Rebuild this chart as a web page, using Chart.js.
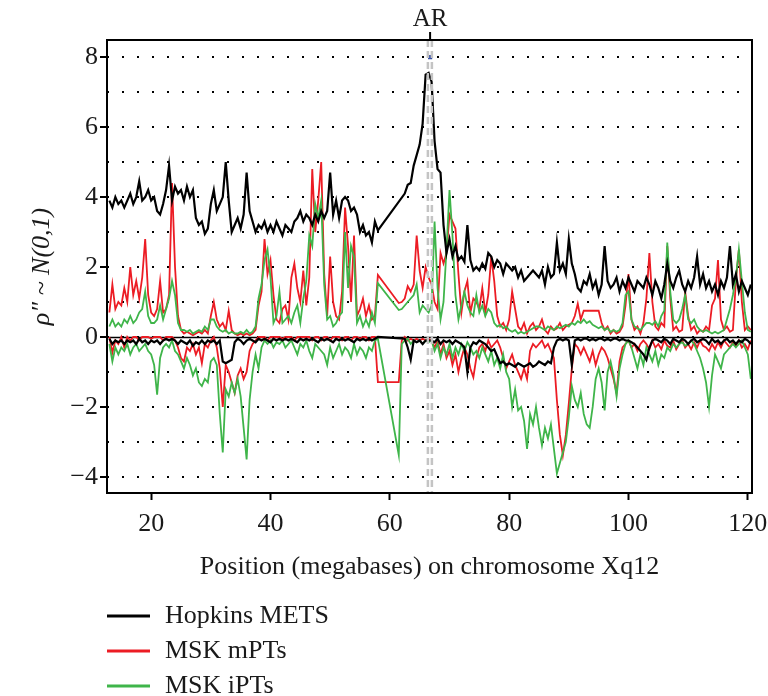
<!DOCTYPE html>
<html>
<head>
<meta charset="utf-8">
<title>Xq12</title>
<script src="https://cdn.jsdelivr.net/npm/chart.js@4.4.1/dist/chart.umd.min.js"></script>
<style>
  html, body { margin: 0; padding: 0; background: #fff; }
  #contenedor { width: 768px; height: 696px; }
</style>
</head>
<body>
<div id="contenedor"><canvas id="graficaXq12" width="768" height="696"></canvas></div>
<script>
// Posiciones (megabases) sobre el cromosoma X
const posicionesMb = [
  13, 13.5, 14, 14.5, 15, 15.5, 16, 16.5, 17, 17.5, 18, 18.5, 19, 19.5, 20, 20.5, 21, 21.5, 22, 22.5,
  23, 23.5, 24, 24.5, 25, 25.5, 26, 26.5, 27, 27.5, 28, 28.5, 29, 29.5, 30, 30.5, 31, 31.5, 32, 32.5,
  33, 33.5, 34, 34.5, 35, 35.5, 36, 36.5, 37, 37.5, 38, 38.5, 39, 39.5, 40, 40.5, 41, 41.5, 42, 42.5,
  43, 43.5, 44, 44.5, 45, 45.5, 46, 46.5, 47, 47.5, 48, 48.5, 49, 49.5, 50, 50.5, 51, 51.5, 52, 52.5,
  53, 53.5, 54, 54.5, 55, 55.5, 56, 56.5, 57, 57.5, 58, 58.5, 59, 59.5, 60, 60.5, 61, 61.5, 62, 62.5,
  63, 63.5, 64, 64.5, 65, 65.5, 66, 66.5, 67, 67.5, 68, 68.5, 69, 69.5, 70, 70.5, 71, 71.5, 72, 72.5,
  73, 73.5, 74, 74.5, 75, 75.5, 76, 76.5, 77, 77.5, 78, 78.5, 79, 79.5, 80, 80.5, 81, 81.5, 82, 82.5,
  83, 83.5, 84, 84.5, 85, 85.5, 86, 86.5, 87, 87.5, 88, 88.5, 89, 89.5, 90, 90.5, 91, 91.5, 92, 92.5,
  93, 93.5, 94, 94.5, 95, 95.5, 96, 96.5, 97, 97.5, 98, 98.5, 99, 99.5, 100, 100.5, 101, 101.5, 102, 102.5,
  103, 103.5, 104, 104.5, 105, 105.5, 106, 106.5, 107, 107.5, 108, 108.5, 109, 109.5, 110, 110.5, 111, 111.5, 112, 112.5,
  113, 113.5, 114, 114.5, 115, 115.5, 116, 116.5, 117, 117.5, 118, 118.5, 119, 119.5, 120, 120.5
];

// Hopkins METS (ganancias / pérdidas); null = sin sondas
const hopkinsGanancia = [
  3.9, 3.7, 4.0, 3.8, 3.9, 3.7, 3.9, 4.1, 3.8, 4.0, 4.45, 3.9, 4.0, 4.2, 3.9, 4.0, 3.6, 3.5, 3.8, 4.2,
  4.9, 3.9, 4.3, 4.1, 4.2, 3.9, 4.3, 4.0, 4.2, 3.4, 3.2, 3.3, 2.95, 3.1, 3.8, 4.2, 3.6, 3.8, 4.0, 5.0,
  3.9, 3.0, 3.2, 3.4, 3.1, 3.5, 4.7, 3.6, 3.3, 3.0, 3.2, 3.1, 3.3, 3.0, 3.2, 3.0, 3.3, 3.1, 2.9, 3.2,
  3.1, 3.0, 3.3, 3.4, 3.6, 3.3, 3.5, 3.4, 3.2, 3.5, 3.3, 3.6, 3.4, 3.6, 4.7, 3.5, 3.9, 3.4, 3.9, 4.0,
  3.9, 3.6, 3.7, 3.5, 3.0, 3.2, 2.9, 3.0, 2.7, 3.3, 3.05, null, null, null, null, null, null, null, null, 4.1,
  4.35, 4.4, 4.9, 5.2, 5.5, 6.1, 7.5, 7.55, 7.3, 5.6, 4.8, 4.7, 3.2, 2.4, 2.8, 2.3, 2.6, 2.2, 2.3, 2.15,
  3.2, 2.2, 1.9, 2.0, 1.9, 2.1, 1.95, 2.4, 2.3, 2.0, 2.2, 2.1, 1.8, 2.1, 2.0, 1.9, 2.0, 1.7, 1.9, 1.6,
  1.7, 1.8, 1.9, 1.8, 1.7, 1.9, 1.5, 2.0, 1.7, 1.8, 2.7, 1.9, 2.1, 1.8, 2.8, 2.1, 1.8, 1.4, 1.3, 1.6,
  1.5, 1.8, 1.4, 1.6, 1.2, 1.5, 2.6, 1.6, 1.4, 1.5, 1.7, 1.3, 1.6, 1.4, 1.7, 1.5, 1.3, 1.6, 1.5, 1.4,
  1.7, 1.5, 1.2, 1.6, 1.4, 1.1, 1.5, 2.1, 1.6, 1.4, 1.7, 1.9, 1.5, 1.3, 1.6, 1.4, 1.7, 2.3, 1.5, 1.8,
  1.4, 1.6, 1.3, 1.5, 1.2, 1.6, 1.4, 1.7, 2.6, 1.5, 1.8, 1.3, 1.6, 1.4, 1.2, 1.5
];
const hopkinsPerdida = [
  -0.05, -0.2, -0.1, -0.15, -0.1, -0.2, -0.1, -0.15, -0.1, -0.2, -0.05, -0.15, -0.1, -0.2, -0.1, -0.15, -0.1, -0.2, -0.1, -0.05,
  -0.1, -0.05, -0.1, -0.2, -0.1, -0.15, -0.2, -0.1, -0.25, -0.15, -0.2, -0.1, -0.2, -0.1, -0.15, -0.1, -0.2, -0.1, -0.7, -0.75,
  -0.7, -0.65, -0.15, -0.05, -0.1, -0.2, -0.1, -0.05, -0.1, -0.15, -0.05, -0.1, -0.05, -0.1, -0.15, -0.05, -0.1, -0.05, -0.1, -0.05,
  -0.1, -0.05, -0.1, -0.15, -0.05, -0.1, -0.05, -0.1, -0.05, -0.1, -0.15, -0.05, -0.1, -0.05, -0.1, -0.15, -0.05, -0.1, -0.05, -0.1,
  -0.05, -0.1, -0.15, -0.05, -0.1, -0.05, -0.1, -0.05, -0.1, -0.05, 0, null, null, null, null, null, null, null, null, -0.05,
  -0.3, -0.65, -0.1, -0.15, -0.1, -0.2, -0.1, -0.1, -0.1, -0.15, -0.05, -0.2, -0.1, -0.15, -0.1, -0.2, -0.1, -0.15, -0.2, -0.3,
  -1.0, -0.3, -0.15, -0.2, -0.1, -0.15, -0.2, -0.3, -0.4, -0.35, -0.55, -0.75, -0.7, -0.8, -0.75, -0.8, -0.85, -0.75, -0.8, -0.85,
  -0.8, -0.75, -0.85, -0.8, -0.7, -0.75, -0.8, -0.7, -0.75, -0.3, -0.1, -0.05, -0.1, -0.05, -0.1, -0.8, -0.1, -0.05, -0.1, -0.05,
  -0.05, -0.1, -0.05, -0.1, -0.05, -0.05, -0.1, -0.05, -0.1, -0.05, -0.05, -0.1, -0.05, -0.1, -0.1, -0.15, -0.2, -0.3, -0.4, -0.5,
  -0.65, -0.3, -0.1, -0.05, -0.1, -0.15, -0.05, -0.1, -0.2, -0.05, -0.1, -0.15, -0.05, -0.1, -0.2, -0.1, -0.05, -0.15, -0.1, -0.05,
  -0.1, -0.2, -0.05, -0.15, -0.1, -0.2, -0.1, -0.05, -0.15, -0.1, -0.2, -0.1, -0.15, -0.05, -0.1, -0.2
];

// MSK mPTs
const mptsGanancia = [
  0.7, 1.5, 0.8, 1.0, 0.9, 1.4, 1.0, 2.0, 1.2, 1.6, 1.1, 1.7, 2.8, 1.2, 0.7, 0.6, 0.8, 1.6, 0.7, 0.8,
  1.2, 4.4, 2.0, 0.6, 0.2, 0.1, 0.15, 0.1, 0.05, 0.1, 0.15, 0.1, 0.2, 0.1, 0.6, 1.0, 0.5, 0.3, 0.4, 0.2,
  0.75, 0.2, 0.1, 0.05, 0.1, 0.05, 0.1, 0.05, 0.1, 0.2, 0.9, 1.3, 2.8, 1.8, 2.2, 1.2, 0.5, 0.4, 0.8, 0.9,
  0.5, 1.7, 2.1, 1.4, 1.0, 1.9, 0.9, 1.7, 4.8, 3.0, 3.9, 5.0, 1.8, 0.6, 2.3, 1.0, 0.6, 0.5, 1.3, 3.7,
  2.6, 1.0, 2.9, 0.6, 0.8, 1.1, 0.6, 0.9, 0.5, 0.6, 1.77, null, null, null, null, null, null, 0.97, 1.0, 1.1,
  1.45, 1.3, 1.5, 2.9, 1.9, 1.4, 2.0, 1.7, 1.5, 1.0, 0.8, 2.4, 2.1, 2.4, 3.5, 3.3, 3.1, 1.8, 0.7, 1.3,
  1.6, 0.7, 1.1, 1.0, 0.8, 1.4, 0.7, 1.2, 2.3, 1.6, 0.6, 0.3, 0.4, 0.2, 0.5, 1.3, 0.8, 0.3, 0.2, 0.4,
  0.1, 0.3, 0.4, 0.2, 0.3, 0.5, 0.2, 0.1, 0.3, 0.2, 0.25, 0.4, 0.2, 0.3, 0.35, 0.4, 0.6, 0.95, 0.5, 0.75,
  0.75, 0.75, 0.75, 0.75, 0.75, 0.4, 0.2, 0.3, 0.1, 0.2, 0.1, 0.15, 0.3, 0.9, 1.8, 0.5, 0.2, 0.3, 0.1, 0.4,
  1.1, 2.4, 1.0, 0.3, 0.2, 0.4, 0.3, 2.6, 1.1, 0.2, 0.3, 0.15, 0.2, 1.3, 0.6, 0.2, 0.3, 0.1, 0.2, 0.15,
  0.3, 0.2, 0.9, 1.1, 2.2, 0.5, 0.2, 0.3, 0.15, 0.2, 1.6, 2.5, 1.0, 0.2, 0.3, 0.2
];
const mptsPerdida = [
  0, -0.45, -0.1, -0.2, 0, -0.3, 0, -0.1, 0, 0, -0.1, 0, 0, 0, -0.05, 0, 0, 0, -0.1, 0,
  0, 0, -0.1, -0.3, -0.6, -0.7, -0.3, -0.4, -0.2, -0.5, -0.3, -0.75, -0.2, -0.3, -0.1, 0, -0.3, -0.9, -2.0, -0.8,
  -1.0, -1.3, -1.6, -1.1, -0.9, -1.2, -1.0, -0.4, -0.2, -0.1, 0, 0, 0, -0.1, 0, 0, 0, 0, -0.05, 0,
  0, 0, -0.1, 0, 0, 0, 0, 0, -0.1, 0, 0, -0.1, 0, 0, -0.1, 0, 0, 0, -0.1, 0,
  0, -0.1, 0, 0, -0.05, 0, 0, -0.1, 0, 0, -1.29, null, null, null, null, null, null, -1.29, -0.1, 0,
  -0.1, -0.05, -0.1, -0.05, -0.1, -0.05, -0.1, -0.05, -0.1, -0.3, -0.1, -0.5, -0.2, -0.6, -0.4, -0.8, -0.5, -1.0, -0.6, -0.3,
  -0.5, -0.9, -1.15, -0.6, -0.3, -0.2, -0.4, -0.1, -0.3, -0.2, -0.1, -0.3, -0.6, -0.9, -0.7, -0.5, -0.8, -1.0, -1.2, -0.9,
  -1.2, -0.4, -0.2, -0.3, -0.2, -0.1, -0.3, -0.2, -0.4, -0.6, -1.8, -2.8, -3.38, -2.8, -1.9, -0.9, -0.2, -0.3, -0.5, -0.3,
  -0.5, -0.7, -0.4, -0.8, -0.5, -0.3, -0.4, -0.6, -0.9, -1.2, -1.6, -0.7, -0.3, -0.2, -0.1, -0.3, -0.2, -0.4, -0.2, -0.1,
  -0.2, -0.35, -0.1, -0.3, -0.2, -0.35, -0.1, -0.25, -0.3, -0.1, -0.35, -0.2, -0.1, -0.3, -0.2, -0.35, -0.15, -0.3, -0.1, -0.25,
  -0.3, -0.4, -0.2, -0.35, -0.15, -0.3, -0.1, -0.2, -0.3, -0.15, -0.25, -0.1, -0.3, -0.2, -0.35, -0.1
];

// MSK iPTs
const iptsGanancia = [
  0.3, 0.5, 0.3, 0.4, 0.3, 0.5, 0.4, 0.6, 0.4, 0.5, 0.7, 0.8, 1.3, 0.6, 0.4, 0.4, 0.5, 0.9, 0.5, 0.8,
  1.1, 1.6, 1.2, 0.4, 0.2, 0.2, 0.15, 0.2, 0.1, 0.15, 0.2, 0.15, 0.3, 0.2, 0.5, 0.5, 0.3, 0.2, 0.15, 0.2,
  0.1, 0.15, 0.1, 0.1, 0.15, 0.1, 0.2, 0.1, 0.15, 0.3, 1.1, 1.5, 2.2, 2.5, 1.7, 0.4, 0.6, 1.3, 0.4, 0.5,
  0.6, 0.4, 0.7, 0.9, 0.4, 1.1, 1.6, 2.9, 2.6, 3.8, 3.4, 3.9, 1.5, 0.5, 0.6, 0.3, 0.4, 0.6, 0.7, 3.0,
  1.4, 2.6, 2.3, 0.4, 0.6, 0.3, 0.5, 0.3, 0.7, 0.4, 1.54, null, null, null, null, null, null, 0.77, 0.8, 0.9,
  1.0, 1.1, 1.2, 1.5, 0.7, 0.9, 0.8, 0.7, 0.9, 3.3, 1.4, 0.5, 1.0, 2.5, 4.2, 2.9, 1.2, 0.5, 0.9, 1.3,
  0.9, 0.7, 0.6, 1.2, 0.7, 0.9, 0.6, 0.8, 0.7, 0.4, 0.3, 0.35, 0.25, 0.3, 0.2, 0.15, 0.2, 0.1, 0.15, 0.1,
  0.15, 0.2, 0.25, 0.3, 0.3, 0.25, 0.2, 0.3, 0.25, 0.2, 0.3, 0.25, 0.3, 0.35, 0.3, 0.4, 0.35, 0.45, 0.4, 0.5,
  0.4, 0.45, 0.35, 0.3, 0.25, 0.3, 0.2, 0.25, 0.15, 0.2, 0.15, 0.2, 0.4, 1.2, 1.3, 0.5, 0.3, 0.25, 0.2, 0.3,
  0.4, 0.4, 0.35, 0.45, 0.3, 0.6, 0.75, 2.7, 1.3, 0.5, 0.4, 0.5, 0.8, 1.2, 0.5, 0.4, 0.5, 0.3, 0.2, 0.15,
  0.2, 0.15, 0.1, 0.15, 0.1, 0.15, 0.2, 0.5, 0.8, 1.2, 1.7, 2.5, 1.6, 0.7, 0.2, 0.15
];
const iptsPerdida = [
  -0.2, -0.7, -0.3, -0.5, -0.3, -0.4, -0.2, -0.5, -0.3, -0.2, -0.4, -0.3, -0.2, -0.4, -0.5, -0.8, -1.65, -0.6, -0.3, -0.2,
  -0.3, -0.1, -0.4, -0.5, -0.7, -0.9, -0.6, -0.8, -1.1, -0.9, -1.3, -1.4, -1.2, -1.3, -0.7, -0.6, -0.8, -2.2, -3.3, -1.5,
  -1.7, -1.3, -1.6, -1.2, -1.7, -2.6, -3.5, -1.8, -1.0, -0.5, -0.9, -0.3, -0.1, -0.2, -0.1, -0.3, -0.15, -0.2, -0.1, -0.3,
  -0.2, -0.1, -0.3, -0.5, -0.2, -0.3, -0.1, -0.4, -0.6, -0.2, -0.3, -0.4, -0.5, -0.8, -0.3, -0.6, -0.4, -0.2, -0.5, -0.3,
  -0.4, -0.6, -0.2, -0.5, -0.3, -0.4, -0.6, -0.3, -0.4, -0.1, -0.05, null, null, null, null, null, null, -3.37, -0.2, -0.1,
  -0.05, -0.2, -0.1, -0.15, -0.1, -0.2, -0.1, -0.15, -0.1, -0.4, -0.2, -0.6, -0.3, -0.5, -0.2, -0.6, -0.3, -0.5, -0.2, -0.4,
  -0.15, -0.3, -0.5, -0.4, -0.6, -0.3, -0.5, -0.7, -0.4, -0.8, -0.6, -0.9, -0.5, -1.0, -1.2, -2.0, -1.5, -2.1, -2.0, -2.4,
  -3.2, -2.2, -2.5, -2.0, -2.6, -3.1, -2.6, -2.9, -2.5, -3.2, -3.9, -3.6, -3.3, -3.0, -2.3, -1.4, -1.8, -2.0, -1.6, -2.2,
  -2.5, -2.6, -2.0, -1.2, -0.9, -1.3, -2.1, -1.0, -0.7, -1.1, -1.7, -0.9, -0.5, -0.2, -0.1, -0.3, -0.6, -0.9, -0.5, -0.8,
  -0.3, -0.5, -0.7, -0.4, -0.8, -0.5, -0.6, -0.3, -0.4, -0.2, -0.3, -0.2, -0.15, -0.25, -0.2, -0.1, -0.2, -0.4, -0.6, -0.9,
  -1.3, -2.0, -1.1, -0.5, -0.7, -0.9, -0.5, -0.4, -0.3, -0.2, -0.3, -0.2, -0.1, -0.3, -0.5, -1.2
];

const ticksX = [20, 40, 60, 80, 100, 120];
const nivelesY = [-4, -3, -2, -1, 0, 1, 2, 3, 4, 5, 6, 7, 8];
const etiquetasSeries = ['Hopkins METS', 'MSK mPTs', 'MSK iPTs'];

// Locus AR
const nombreGen = 'AR';
const arInicio = 66.38;
const arFin = 67.05;
const marcaAR = [{ x: 66.75, y: 8 }];

const NEGRO = '#000000';
const ROJO = '#ec1c24';
const VERDE = '#3fb54a';
const coloresSeries = [NEGRO, ROJO, VERDE];
const fuente = '"Liberation Serif", "Times New Roman", serif';
const colorTexto = '#1a1a1a';

function crearSerie(etiqueta, valores, color, ancho, orden) {
  return {
    label: etiqueta,
    data: posicionesMb.map((x, i) => ({ x: x, y: valores[i] })),
    borderColor: color,
    backgroundColor: color,
    borderWidth: ancho,
    pointRadius: 0,
    spanGaps: true,
    tension: 0,
    fill: false,
    order: orden
  };
}

// línea de referencia en cero (debajo de las series)
const lineaCero = {
  id: 'lineaCero',
  beforeDatasetsDraw(chart) {
    const { ctx, chartArea, scales } = chart;
    const y = Math.round(scales.y.getPixelForValue(0)) + 0.5;
    ctx.save();
    ctx.strokeStyle = NEGRO;
    ctx.lineWidth = 1.5;
    ctx.beginPath();
    ctx.moveTo(chartArea.left, y);
    ctx.lineTo(chartArea.right, y);
    ctx.stroke();
    ctx.restore();
  }
};

// marco, líneas del gen AR y su etiqueta
const marcoYGen = {
  id: 'marcoYGen',
  afterDatasetsDraw(chart) {
    const { ctx, chartArea, scales } = chart;
    ctx.save();
    ctx.strokeStyle = '#c4c4c4';
    ctx.lineWidth = 2.5;
    ctx.setLineDash([7, 4]);
    [arInicio, arFin].forEach(pos => {
      const x = scales.x.getPixelForValue(pos);
      ctx.beginPath();
      ctx.moveTo(x, chartArea.top);
      ctx.lineTo(x, chartArea.bottom);
      ctx.stroke();
    });
    ctx.setLineDash([]);

    const xc = scales.x.getPixelForValue(marcaAR[0].x);
    ctx.strokeStyle = NEGRO;
    ctx.lineWidth = 2;
    ctx.beginPath();
    ctx.moveTo(xc, chartArea.top - 8);
    ctx.lineTo(xc, chartArea.top);
    ctx.stroke();

    ctx.fillStyle = colorTexto;
    ctx.font = '25px ' + fuente;
    ctx.textAlign = 'center';
    ctx.textBaseline = 'middle';
    ctx.fillText(nombreGen, xc, chartArea.top - 21);

    ctx.lineWidth = 2;
    ctx.strokeRect(chartArea.left, chartArea.top, chartArea.right - chartArea.left, chartArea.bottom - chartArea.top);
    ctx.restore();
  }
};

// leyenda en columna bajo el gráfico
const leyendaColumna = {
  id: 'leyendaColumna',
  afterDraw(chart) {
    const { ctx, chartArea } = chart;
    ctx.save();
    ctx.font = '26px ' + fuente;
    ctx.textBaseline = 'middle';
    ctx.textAlign = 'left';
    etiquetasSeries.forEach((texto, i) => {
      const y = 616 + i * 35;
      ctx.strokeStyle = coloresSeries[i];
      ctx.lineWidth = 3;
      ctx.beginPath();
      ctx.moveTo(chartArea.left, y);
      ctx.lineTo(chartArea.left + 43, y);
      ctx.stroke();
      ctx.fillStyle = colorTexto;
      ctx.fillText(texto, chartArea.left + 58, y);
    });
    ctx.restore();
  }
};

const ctx = document.getElementById('graficaXq12').getContext('2d');
new Chart(ctx, {
  type: 'line',
  data: {
    datasets: [
      {
        label: 'AR',
        data: marcaAR,
        showLine: false,
        pointStyle: 'rect',
        pointRadius: 3,
        pointBorderWidth: 0,
        pointBackgroundColor: '#3d55a8',
        order: -1
      },
      crearSerie(etiquetasSeries[0], hopkinsGanancia, NEGRO, 2.2, 0),
      crearSerie(etiquetasSeries[0], hopkinsPerdida, NEGRO, 2.2, 0),
      crearSerie(etiquetasSeries[2], iptsGanancia, VERDE, 1.8, 1),
      crearSerie(etiquetasSeries[2], iptsPerdida, VERDE, 1.8, 1),
      crearSerie(etiquetasSeries[1], mptsGanancia, ROJO, 1.8, 2),
      crearSerie(etiquetasSeries[1], mptsPerdida, ROJO, 1.8, 2)
    ]
  },
  options: {
    responsive: false,
    animation: false,
    events: [],
    layout: { padding: { left: 0, right: 16, top: 40, bottom: 113 } },
    plugins: {
      legend: { display: false },
      tooltip: { enabled: false }
    },
    scales: {
      x: {
        type: 'linear',
        min: 12.6,
        max: 120.7,
        afterBuildTicks: escala => { escala.ticks = ticksX.map(v => ({ value: v })); },
        afterFit: escala => {
          escala.height = 90;
          escala.paddingLeft = 0;
          escala.paddingRight = 0;
        },
        border: { display: false },
        grid: {
          drawOnChartArea: false,
          drawTicks: true,
          tickLength: 7,
          tickWidth: 2,
          tickColor: NEGRO
        },
        ticks: {
          color: colorTexto,
          font: { family: fuente, size: 26 },
          padding: 9,
          maxRotation: 0
        },
        title: {
          display: true,
          text: 'Position (megabases) on chromosome Xq12',
          color: colorTexto,
          font: { family: fuente, size: 26 },
          padding: 0
        }
      },
      y: {
        type: 'linear',
        min: -4.46,
        max: 8.49,
        afterBuildTicks: escala => { escala.ticks = nivelesY.map(v => ({ value: v })); },
        afterFit: escala => {
          escala.width = 107;
          escala.paddingTop = 0;
          escala.paddingBottom = 0;
        },
        border: { display: false, dash: [2, 13] },
        grid: {
          color: NEGRO,
          lineWidth: 2,
          tickLength: 7,
          tickWidth: 2,
          tickColor: c => (c.tick && c.tick.value % 2 === 0) ? NEGRO : 'rgba(0,0,0,0)'
        },
        ticks: {
          color: colorTexto,
          font: { family: fuente, size: 26 },
          padding: 2,
          callback: v => v % 2 !== 0 ? '' : (v < 0 ? '\u2212' + Math.abs(v) : String(v))
        },
        title: {
          display: true,
          text: 'ρ″ ~ N(0,1)',
          color: colorTexto,
          font: { family: fuente, size: 26, style: 'italic' },
          padding: { top: 27, bottom: 0 }
        }
      }
    }
  },
  plugins: [lineaCero, marcoYGen, leyendaColumna]
});
</script>
</body>
</html>
